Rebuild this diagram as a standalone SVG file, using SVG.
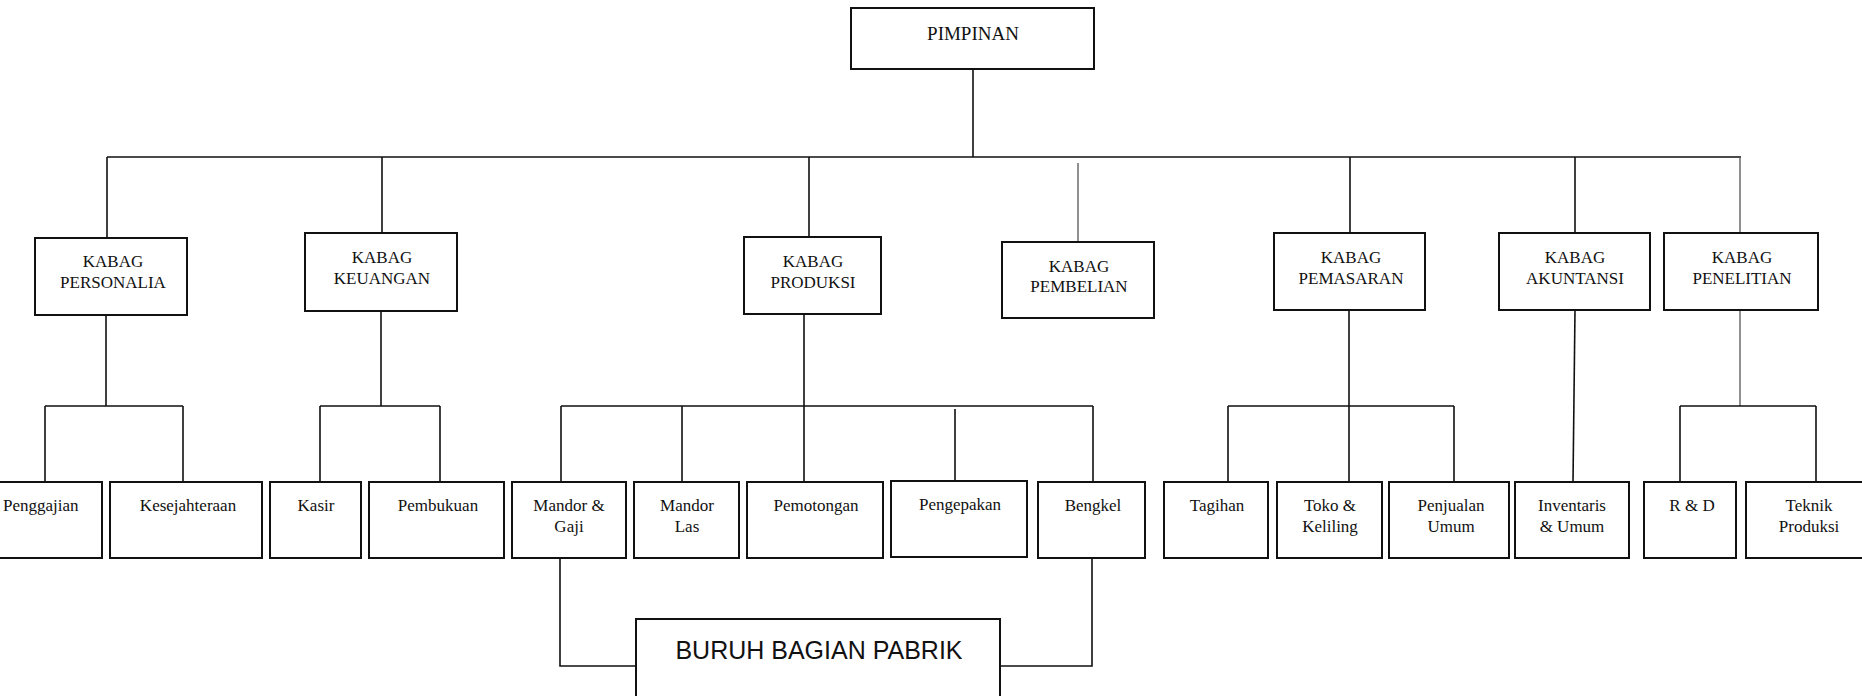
<svg xmlns="http://www.w3.org/2000/svg" width="1862" height="696" viewBox="0 0 1862 696">
<style>
.box{fill:#fff;stroke:#111;stroke-width:2}
.t{font-family:"Liberation Serif","Times New Roman",serif;font-size:17px;fill:#111;text-anchor:middle}
.ln{fill:none;stroke:#111;stroke-width:1.6}
.lt{fill:none;stroke:#555;stroke-width:1.3}
</style>
<rect width="1862" height="696" fill="#fff"/>
<g id="connectors">
<path class="ln" d="M973 69V157M107 157H1741"/>
<path class="ln" d="M107 157V238M382 157V233M809 157V237M1350 157V233M1575 157V233"/>
<path class="lt" d="M1078 163V242M1740 157V233"/>
<path class="ln" d="M106 315V406M45 406H183M45 406V482M183 406V482"/>
<path class="ln" d="M381 311V406M320 406H440M320 406V482M440 406V482"/>
<path class="ln" d="M804 314V406M561 406H1093M561 406V482M682 406V482M804 406V482M955 409V481M1093 406V482"/>
<path class="ln" d="M1349 310V406M1228 406H1454M1228 406V482M1349 406V482M1454 406V482"/>
<path class="ln" d="M1575 310L1573 482"/>
<path class="lt" d="M1740 310V406"/>
<path class="ln" d="M1680 406H1816M1680 406V482M1816 406V482"/>
<path class="ln" d="M560 558V666H636M1092 558V666H1000"/>
</g>
<g id="pimpinan"><rect class="box" x="851" y="8" width="243" height="61"/><text class="t" x="973" y="40" style="font-size:19px">PIMPINAN</text></g>
<g id="kabag-personalia"><rect class="box" x="35" y="238" width="152" height="77"/><text class="t" x="113" y="267">KABAG</text><text class="t" x="113" y="288">PERSONALIA</text></g>
<g id="kabag-keuangan"><rect class="box" x="305" y="233" width="152" height="78"/><text class="t" x="382" y="263">KABAG</text><text class="t" x="382" y="284">KEUANGAN</text></g>
<g id="kabag-produksi"><rect class="box" x="744" y="237" width="137" height="77"/><text class="t" x="813" y="267">KABAG</text><text class="t" x="813" y="288">PRODUKSI</text></g>
<g id="kabag-pembelian"><rect class="box" x="1002" y="242" width="152" height="76"/><text class="t" x="1079" y="272">KABAG</text><text class="t" x="1079" y="292">PEMBELIAN</text></g>
<g id="kabag-pemasaran"><rect class="box" x="1274" y="233" width="151" height="77"/><text class="t" x="1351" y="263">KABAG</text><text class="t" x="1351" y="284">PEMASARAN</text></g>
<g id="kabag-akuntansi"><rect class="box" x="1499" y="233" width="151" height="77"/><text class="t" x="1575" y="263">KABAG</text><text class="t" x="1575" y="284">AKUNTANSI</text></g>
<g id="kabag-penelitian"><rect class="box" x="1664" y="233" width="154" height="77"/><text class="t" x="1742" y="263">KABAG</text><text class="t" x="1742" y="284">PENELITIAN</text></g>
<g id="penggajian"><rect class="box" x="-6" y="482" width="108" height="76"/><text class="t" x="3" y="511" style="text-anchor:start">Penggajian</text></g>
<g id="kesejahteraan"><rect class="box" x="110" y="482" width="152" height="76"/><text class="t" x="188" y="511">Kesejahteraan</text></g>
<g id="kasir"><rect class="box" x="270" y="482" width="91" height="76"/><text class="t" x="316" y="511">Kasir</text></g>
<g id="pembukuan"><rect class="box" x="369" y="482" width="135" height="76"/><text class="t" x="438" y="511">Pembukuan</text></g>
<g id="mandor-gaji"><rect class="box" x="512" y="482" width="114" height="76"/><text class="t" x="569" y="511">Mandor &amp;</text><text class="t" x="569" y="532">Gaji</text></g>
<g id="mandor-las"><rect class="box" x="634" y="482" width="105" height="76"/><text class="t" x="687" y="511">Mandor</text><text class="t" x="687" y="532">Las</text></g>
<g id="pemotongan"><rect class="box" x="747" y="482" width="136" height="76"/><text class="t" x="816" y="511">Pemotongan</text></g>
<g id="pengepakan"><rect class="box" x="891" y="481" width="136" height="76"/><text class="t" x="960" y="510">Pengepakan</text></g>
<g id="bengkel"><rect class="box" x="1038" y="482" width="107" height="76"/><text class="t" x="1093" y="511">Bengkel</text></g>
<g id="tagihan"><rect class="box" x="1164" y="482" width="104" height="76"/><text class="t" x="1217" y="511">Tagihan</text></g>
<g id="toko-keliling"><rect class="box" x="1277" y="482" width="105" height="76"/><text class="t" x="1330" y="511">Toko &amp;</text><text class="t" x="1330" y="532">Keliling</text></g>
<g id="penjualan-umum"><rect class="box" x="1389" y="482" width="120" height="76"/><text class="t" x="1451" y="511">Penjualan</text><text class="t" x="1451" y="532">Umum</text></g>
<g id="inventaris-umum"><rect class="box" x="1515" y="482" width="114" height="76"/><text class="t" x="1572" y="511">Inventaris</text><text class="t" x="1572" y="532">&amp; Umum</text></g>
<g id="r-d"><rect class="box" x="1644" y="482" width="92" height="76"/><text class="t" x="1692" y="511">R &amp; D</text></g>
<g id="teknik-produksi"><rect class="box" x="1746" y="482" width="140" height="76"/><text class="t" x="1809" y="511">Teknik</text><text class="t" x="1809" y="532">Produksi</text></g>
<g id="buruh"><rect class="box" x="636" y="619" width="364" height="90"/><text x="819" y="659" style="font-family:'Liberation Sans',Arial,sans-serif;font-size:25px;fill:#111;text-anchor:middle">BURUH BAGIAN PABRIK</text></g>
</svg>
